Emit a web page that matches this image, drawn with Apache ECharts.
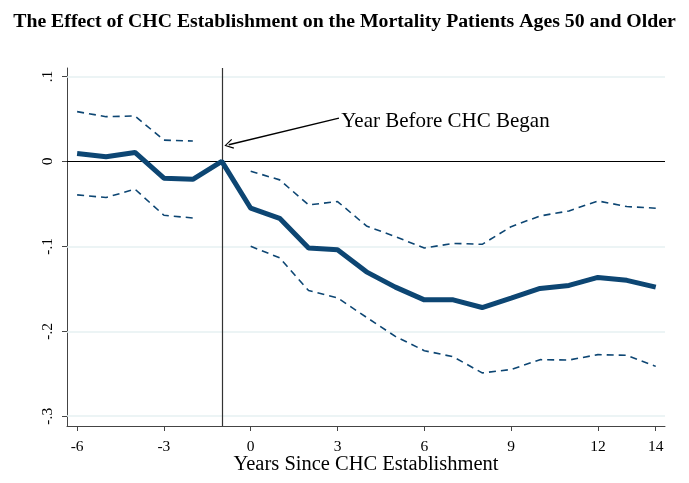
<!DOCTYPE html>
<html>
<head>
<meta charset="utf-8">
<script src="https://cdn.jsdelivr.net/npm/echarts@6/dist/echarts.min.js"></script>
<style>html,body{margin:0;padding:0;background:#fff}#c{width:689px;height:483px}</style>
</head>
<body>
<div id="c"></div>
<script>
// ---- data ----
const yearsPre = [-6, -5, -4, -3, -2];
const yearsAll = [-6, -5, -4, -3, -2, -1, 0, 1, 2, 3, 4, 5, 6, 7, 8, 9, 10, 11, 12, 13, 14];
const yearsPost = [0, 1, 2, 3, 4, 5, 6, 7, 8, 9, 10, 11, 12, 13, 14];
const estimate = [0.0094, 0.0054, 0.0106, -0.0197, -0.021, 0, -0.0551, -0.067, -0.102, -0.104, -0.130, -0.148, -0.163, -0.163, -0.172, -0.161, -0.1496, -0.146, -0.1366, -0.140, -0.148];
const upperPre = [0.0586, 0.0527, 0.0535, 0.0251, 0.024];
const lowerPre = [-0.0394, -0.0425, -0.0327, -0.0634, -0.0666];
const upperPost = [-0.0115, -0.0217, -0.0512, -0.0472, -0.076, -0.0886, -0.102, -0.0965, -0.0976, -0.0768, -0.0642, -0.0583, -0.0465, -0.0531, -0.0551];
const lowerPost = [-0.100, -0.1134, -0.152, -0.1606, -0.1835, -0.206, -0.2228, -0.230, -0.249, -0.245, -0.2334, -0.2338, -0.2275, -0.2283, -0.2413];
const xTicks = [-6, -3, 0, 3, 6, 9, 12, 14];
const yTicks = [-0.3, -0.2, -0.1, 0, 0.1];
const yTickLabels = ['-.3', '-.2', '-.1', '0', '.1'];
const refYear = -1;
const titleText = 'The Effect of CHC Establishment on the Mortality Patients Ages 50 and Older';
const xName = 'Years Since CHC Establishment';
const noteText = 'Year Before CHC Began';

const pair = (xs, ys) => xs.map((x, i) => [x, ys[i]]);
const navy = '#0d4673';
const serif = 'Liberation Serif, Times New Roman, serif';

const chart = echarts.init(document.getElementById('c'), null, {renderer: 'canvas'});
const dashStyle = {color: navy, width: 1.6, type: [7, 5]};
const gridLine = {color: '#e6f0f2', width: 1.5, type: 'solid'};

chart.setOption({
  animation: false,
  backgroundColor: '#fff',
  title: {
    text: titleText, left: 'center', top: 7,
    textStyle: {fontFamily: serif, fontWeight: 'bold', fontSize: 19.8, color: '#000'}
  },
  grid: {left: 67, right: 24, top: 68, bottom: 57, containLabel: false, outerBoundsMode: 'none'},
  xAxis: {
    type: 'value', min: -6.35, max: 14.32,
    name: xName, nameLocation: 'middle', nameGap: 28, nameMoveOverlap: false,
    nameTextStyle: {fontFamily: serif, fontSize: 20.5, color: '#000'},
    axisLine: {show: true, onZero: false, lineStyle: {color: '#444', width: 1}},
    axisTick: {show: true, length: 5, customValues: xTicks, lineStyle: {color: '#444'}},
    axisLabel: {customValues: xTicks, fontFamily: serif, fontSize: 15.5, color: '#000', margin: 13},
    splitLine: {show: false}
  },
  yAxis: {
    type: 'value', min: -0.3115, max: 0.11,
    axisLine: {show: true, onZero: false, lineStyle: {color: '#444', width: 1}},
    axisTick: {show: true, length: 5, customValues: yTicks, lineStyle: {color: '#444'}},
    axisLabel: {
      customValues: yTicks, rotate: 90, fontFamily: serif, fontSize: 15.5, color: '#000', margin: 11,
      formatter: v => { const i = yTicks.findIndex(t => Math.abs(t - v) < 1e-9); return i >= 0 ? yTickLabels[i] : ''; }
    },
    splitLine: {show: false}
  },
  series: [
    {
      type: 'line', data: pair(yearsAll, estimate), showSymbol: false, symbol: 'none',
      lineStyle: {color: navy, width: 5}, z: 5,
      markLine: {
        silent: true, symbol: 'none', label: {show: false}, animation: false,
        data: [
          {yAxis: 0.1, lineStyle: gridLine},
          {yAxis: -0.1, lineStyle: gridLine},
          {yAxis: -0.2, lineStyle: gridLine},
          {yAxis: -0.3, lineStyle: gridLine},
          {yAxis: 0, lineStyle: {color: '#000', width: 1.2, type: 'solid'}},
          {xAxis: refYear, lineStyle: {color: '#333', width: 1.2, type: 'solid'}},
          [
            {coord: [3.05, 0.051], symbol: 'none'},
            {coord: [-0.76, 0.0196], symbol: 'path://M0,0 L6,10 L4.8,10.8 L0,2.4 L-4.8,10.8 L-6,10 Z', symbolSize: [10, 9], lineStyle: {color: '#000', width: 1.4, type: 'solid'}}
          ]
        ],
        z: 1
      },
      markPoint: {
        silent: true, symbol: 'circle', symbolSize: 0,
        data: [{coord: [3.13, 0.0475]}],
        label: {show: true, position: 'right', distance: 0, formatter: noteText, fontFamily: serif, fontSize: 21, color: '#000'}
      }
    },
    {type: 'line', data: pair(yearsPre, upperPre), symbol: 'none', lineStyle: dashStyle, z: 4},
    {type: 'line', data: pair(yearsPre, lowerPre), symbol: 'none', lineStyle: dashStyle, z: 4},
    {type: 'line', data: pair(yearsPost, upperPost), symbol: 'none', lineStyle: dashStyle, z: 4},
    {type: 'line', data: pair(yearsPost, lowerPost), symbol: 'none', lineStyle: dashStyle, z: 4}
  ]
});
</script>
</body>
</html>
